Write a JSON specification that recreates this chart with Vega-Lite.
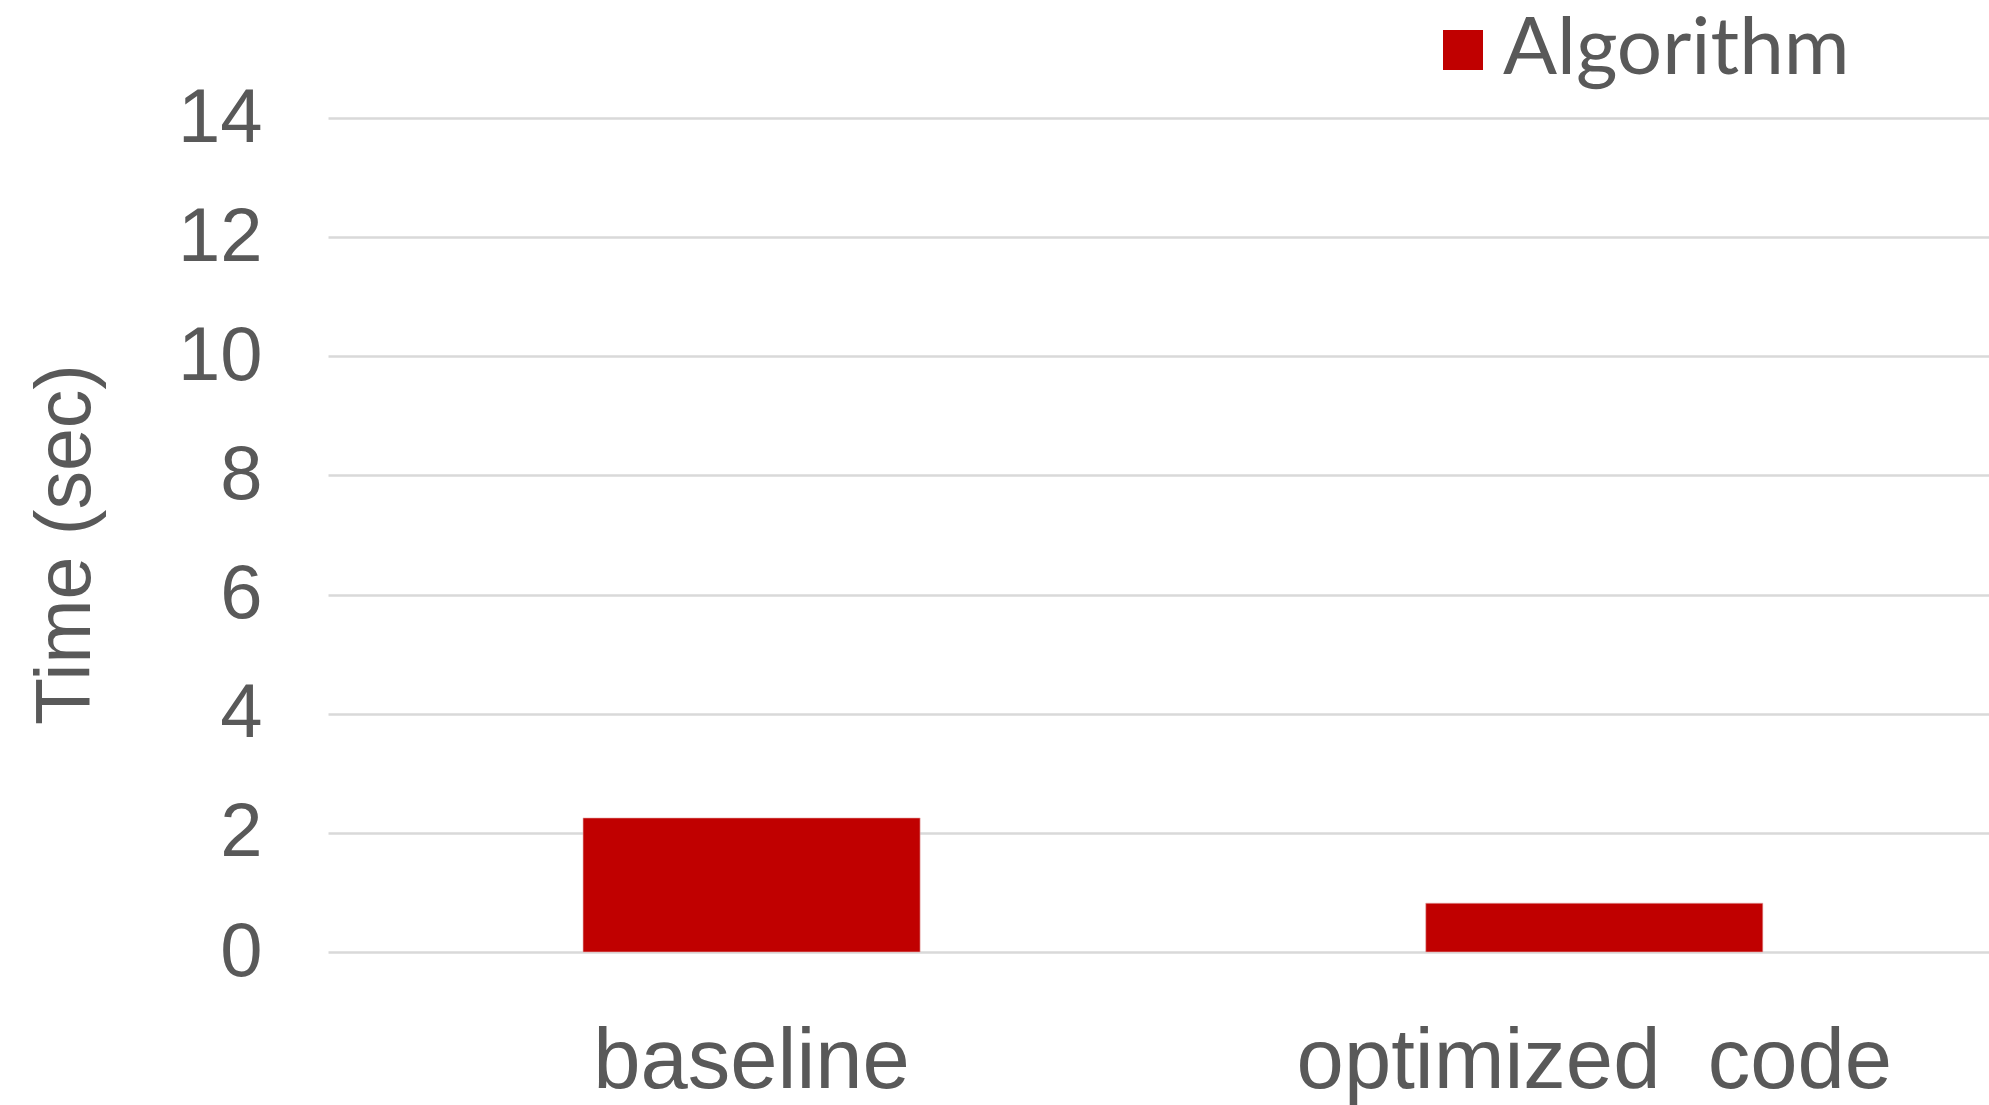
{
  "$schema": "https://vega.github.io/schema/vega-lite/v6.json",
  "width": 1661,
  "height": 834,
  "autosize": {"type": "none"},
  "padding": {"left": 328, "top": 118, "right": 0, "bottom": 153},
  "background": "white",
  "data": {
    "values": [
      {"variant": "baseline", "time": 2.25, "series": "Algorithm"},
      {"variant": "optimized\u00a0 code", "time": 0.82, "series": "Algorithm"}
    ]
  },
  "mark": {"type": "bar", "stroke": "#e8b0b0", "strokeWidth": 0.6},
  "encoding": {
    "x": {
      "field": "variant",
      "type": "nominal",
      "sort": null,
      "scale": {"paddingInner": 0.6, "paddingOuter": 0.2855, "align": 0.53},
      "axis": {
        "title": null,
        "labelAngle": 0,
        "labelFont": "Liberation Sans",
        "labelFontSize": 85,
        "labelColor": "#595959",
        "labelPadding": 68,
        "labelLimit": 2000,
        "ticks": false,
        "domain": false,
        "grid": false
      }
    },
    "y": {
      "field": "time",
      "type": "quantitative",
      "scale": {"domain": [0, 14], "nice": false},
      "axis": {
        "values": [0, 2, 4, 6, 8, 10, 12, 14],
        "title": "Time (sec)",
        "titleFont": "Liberation Sans",
        "titleFontSize": 77,
        "titleFontWeight": "normal",
        "titleColor": "#595959",
        "titleAngle": -90,
        "titleAlign": "center",
        "titleBaseline": "alphabetic",
        "titleX": -239,
        "titleY": 426,
        "labelFont": "Liberation Sans",
        "labelFontSize": 76,
        "labelColor": "#595959",
        "labelPadding": 66,
        "ticks": false,
        "tickSize": 0,
        "domain": false,
        "grid": true,
        "gridColor": "#D9D9D9",
        "gridWidth": 2.5
      }
    },
    "color": {
      "field": "series",
      "type": "nominal",
      "scale": {"range": ["#C00000"]},
      "legend": {
        "title": null,
        "orient": "none",
        "legendX": 1095,
        "legendY": -108,
        "padding": 0,
        "symbolType": "square",
        "symbolSize": 1600,
        "symbolStrokeWidth": 0,
        "symbolOpacity": 1,
        "labelFont": "Lato",
        "labelFontSize": 80,
        "labelColor": "#595959",
        "labelOffset": 0,
        "labelLimit": 1000
      }
    }
  },
  "config": {
    "view": {"stroke": null}
  }
}
